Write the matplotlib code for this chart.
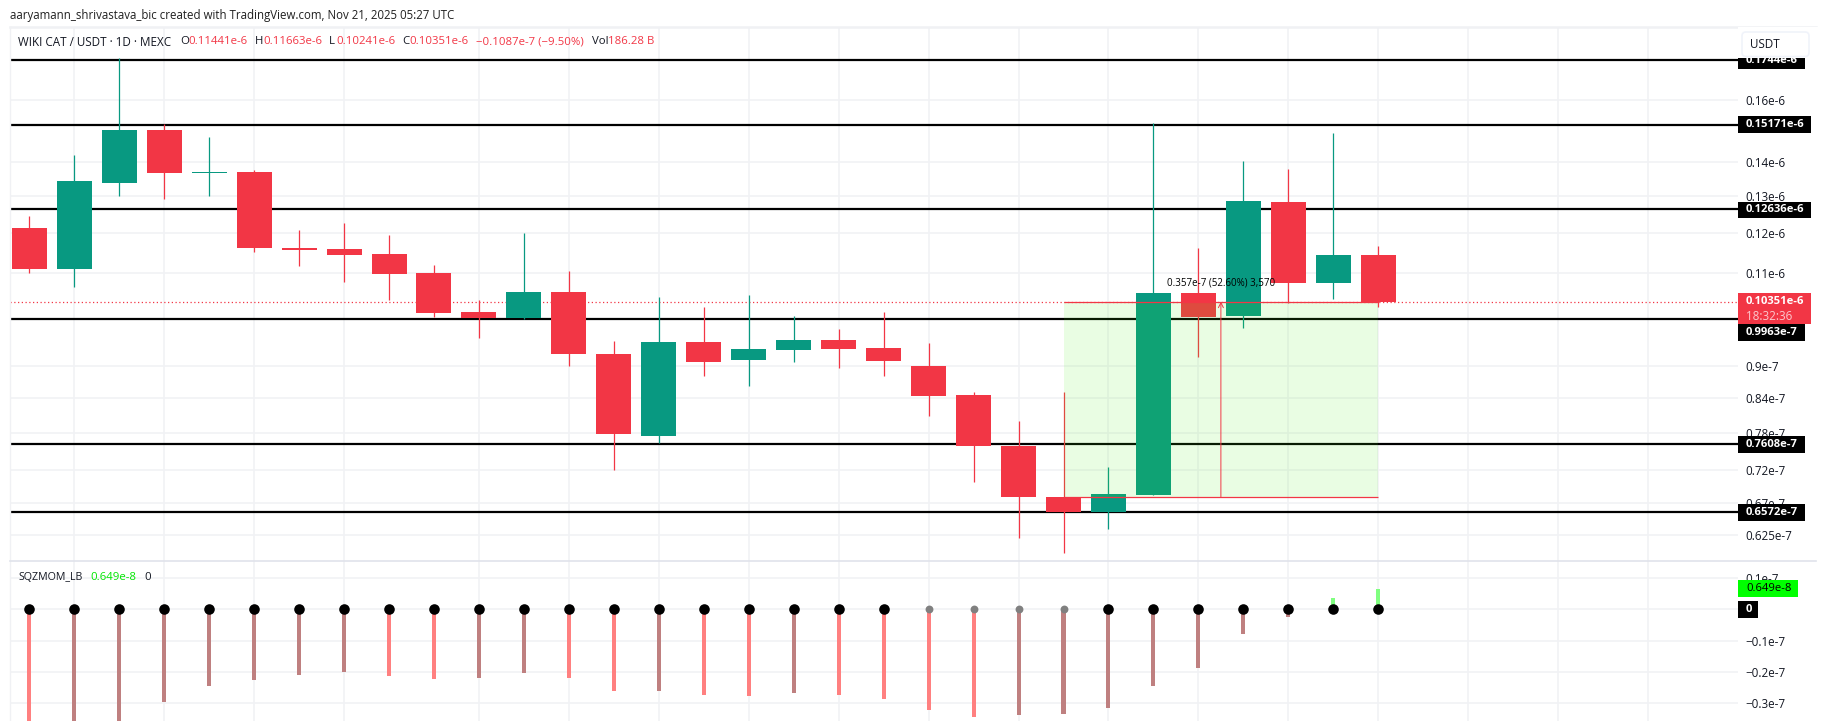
#!/usr/bin/env python3
"""WIKI CAT / USDT daily chart with support lines and squeeze momentum pane."""

import matplotlib
matplotlib.use('Agg')
import matplotlib.pyplot as plt
from matplotlib.patches import Rectangle, FancyBboxPatch
from matplotlib.ticker import NullLocator

plt.rcParams['font.family'] = ['Open Sans', 'DejaVu Sans']

# prices in units of 1e-6
opens = [.12133, .11113, .13382, .14993, .13664, .13694, .11621, .11596, .11472, .11012,
         .10122, .09991, .10568, .09243, .07744, .09487, .09125, .09323, .09527, .09365,
         .09008, .08461, .07578, .06790, .06572, .06817, .10546, .10035, .12834, .10775,
         .11441]
highs = [.12452, .14207, .17504, .15189, .14768, .13753, .12081, .12265, .11951, .11202,
         .10387, .12004, .11059, .09507, .10455, .10232, .10499, .10035, .09756, .10122,
         .09466, .08516, .07997, .08516, .07243, .15211, .11621, .14022, .13783, .14897,
         .11663]
lows = [.11012, .10689, .13011, .12926, .13011, .11530, .11185, .10806, .10387, .10019,
        .09569, .09980, .09008, .07196, .07623, .08816, .08626, .09086, .08969, .08816,
        .08085, .07013, .06214, .06015, .06334, .06817, .09191, .09777, .10326, .10410,
        .10241]
closes = [.11113, .13431, .14993, .13673, .13694, .11629, .11571, .11447, .10987, .10106,
          .09991, .10568, .09243, .07778, .09487, .09086, .09344, .09527, .09344, .09105,
          .08443, .07578, .06790, .06572, .06833, .10546, .10019, .12862, .10775, .11447,
          .10351]

# horizontal levels and axis ticks, same units
levels = [.1744, .15171, .12636, .09963, .07608, .06572]
price_ticks = [.16, .14, .13, .12, .11, .09, .084, .078, .072, .067, .0625]
price_tick_labels = ['0.16e-6', '0.14e-6', '0.13e-6', '0.12e-6', '0.11e-6', '0.9e-7',
                     '0.84e-7', '0.78e-7', '0.72e-7', '0.67e-7', '0.625e-7']
grid_bars = [1, 3, 5, 7, 10, 12, 14, 16, 18, 20, 22, 24, 26, 28, 30, 32, 34, 36]

# squeeze momentum in units of 1e-7, M = maroon, L = light red, G = lime
momentum = [-.37, -.39, -.37, -.297, -.245, -.227, -.211, -.201, -.214, -.223,
            -.220, -.204, -.220, -.262, -.262, -.275, -.278, -.268, -.275, -.287,
            -.323, -.345, -.339, -.336, -.316, -.246, -.188, -.079, -.025, .036,
            .0649]
momentum_kind = list('LMMMMMMMLLMMLLMLLMLLLLMMMMMMMGG')
squeeze_gray = [20, 21, 22, 23]
mom_ticks = [.1, 0, -.1, -.2, -.3]
mom_tick_labels = ['0.1e-7', '0', '\u22120.1e-7', '\u22120.2e-7', '\u22120.3e-7']

# the long position drawing
zone_start, zone_end, zone_top, zone_bottom = 23, 30, .10351, .0679
zone_arrow_x = 26.5

RED = '#f23645'
TEAL = '#089981'
INK = '#131722'
GRID = '#f1f2f5'
BORDER = '#e0e3eb'
BAR_COLORS = {'L': '#ff8080', 'M': '#bf8080', 'G': '#80ff80'}
TICK_SIZE = 8.4
TAG_SIZE = 8.1

W, H = 1825, 721
PANE_L, PANE_R, PANE_T, PANE_M = 10, 1738, 27, 561
fig = plt.figure(figsize=(W / 100, H / 100), dpi=100, facecolor='white')
ax = fig.add_axes([PANE_L / W, 1 - PANE_M / H, (PANE_R - PANE_L) / W, (PANE_M - PANE_T) / H])
ax2 = fig.add_axes([PANE_L / W, 0, (PANE_R - PANE_L) / W, 1 - PANE_M / H])

xlim = (-0.429, 38.0)

# ---- price pane ----
ax.set_yscale('log')
ax.set_xlim(*xlim)
ax.set_ylim(.05912, .18728)
ax.set_yticks(price_ticks)
ax.set_yticklabels(price_tick_labels)
ax.yaxis.set_minor_locator(NullLocator())
ax.yaxis.tick_right()
ax.tick_params(axis='y', length=0, pad=5.5, labelsize=TICK_SIZE, labelcolor=INK)
ax.set_xticks(grid_bars)
ax.tick_params(axis='x', length=0, labelbottom=False)
ax.grid(True, color=GRID, lw=1.2, zorder=0)
ax.set_axisbelow(True)

for lev in levels:
    ax.axhline(lev, color='black', lw=1.6, zorder=1)
ax.axhline(closes[-1], color=RED, lw=0.9, ls=(0, (1, 2)), zorder=1.5)

for i in range(len(opens)):
    col = TEAL if closes[i] >= opens[i] else RED
    top = max(opens[i], closes[i])
    bot = min(opens[i], closes[i])
    ax.vlines(i, lows[i], highs[i], color=col, lw=0.9, zorder=2)
    ax.bar(i, top - bot, bottom=bot, width=0.778, color=col, lw=0, zorder=3)

# long position overlay sits above the candles
ax.fill_between([zone_start, zone_end], zone_bottom, zone_top,
                color=(75 / 255, 238 / 255, 25 / 255), alpha=0.117, lw=0, zorder=4)
ax.hlines([zone_top, zone_bottom], zone_start, zone_end, color=RED, lw=0.9, zorder=5)
ax.annotate('', xy=(zone_arrow_x, zone_top), xytext=(zone_arrow_x, zone_bottom),
            arrowprops=dict(arrowstyle='->', color=RED, lw=0.7, shrinkA=0, shrinkB=0,
                            mutation_scale=9), zorder=5)
ax.text(zone_arrow_x, .1078, '0.357e-7 (52.60%) 3,570', fontsize=7, color='black',
        ha='center', va='center', zorder=6)

# ---- momentum pane ----
ax2.set_xlim(*xlim)
ax2.set_ylim(-.358, .1548)
ax2.set_yticks(mom_ticks)
ax2.set_yticklabels(mom_tick_labels)
ax2.yaxis.tick_right()
ax2.tick_params(axis='y', length=0, pad=5.5, labelsize=TICK_SIZE, labelcolor=INK)
ax2.set_xticks(grid_bars)
ax2.tick_params(axis='x', length=0, labelbottom=False)
ax2.grid(True, color=GRID, lw=1.2, zorder=0)
ax2.set_axisbelow(True)

xs = list(range(len(momentum)))
ax2.bar(xs, momentum, width=0.09, color=[BAR_COLORS[k] for k in momentum_kind], lw=0, zorder=2)
black_x = [x for x in xs if x not in squeeze_gray]
ax2.scatter(black_x, [0] * len(black_x), s=58, color='black', lw=0, zorder=3)
ax2.scatter(squeeze_gray, [0] * len(squeeze_gray), s=32, color='#808080', lw=0, zorder=3)

for a in (ax, ax2):
    for s in a.spines.values():
        s.set_visible(False)

# ---- overlay in pixel coordinates for headers and price tags ----
ov = fig.add_axes([0, 0, 1, 1], facecolor='none')
ov.set_xlim(0, W)
ov.set_ylim(H, 0)
ov.axis('off')


def label(x, y, s, color=INK, size=8.2, weight='normal', **kw):
    ov.text(x, y, s, color=color, fontsize=size, fontweight=weight, va='center', ha='left', **kw)


def price_tag(y0, y1, x1, bg, fg, s, weight='bold'):
    ov.add_patch(Rectangle((PANE_R, y0), x1 - PANE_R, y1 - y0, fc=bg, ec='none', zorder=3))
    ov.text(1746, (y0 + y1) / 2, s, color=fg, fontsize=TAG_SIZE, fontweight=weight,
            va='center', ha='left', zorder=4)


ov.plot([PANE_L, 1816], [27, 27], color='#f0f1f4', lw=1.8)
ov.plot([PANE_L, PANE_L], [27, H], color='#f0f1f4', lw=1.0)
ov.plot([PANE_L, 1816], [PANE_M, PANE_M], color=BORDER, lw=1.2)

label(10, 15, 'aaryamann_shrivastava_bic created with TradingView.com, Nov 21, 2025 05:27 UTC',
      color='#202020', size=8.3)

label(18, 42, 'WIKI CAT / USDT \u00b7 1D \u00b7 MEXC', size=8.4)
label(180, 42, 'O')
label(188, 42, '0.11441e-6', color=RED)
label(255, 42, 'H')
label(263, 42, '0.11663e-6', color=RED)
label(329, 42, 'L')
label(336, 42, '0.10241e-6', color=RED)
label(402, 42, 'C')
label(409, 42, '0.10351e-6', color=RED)
label(476, 42, '\u22120.1087e-7 (\u22129.50%)', color=RED)
label(592, 42, 'Vol')
label(608, 42, '186.28 B', color=RED)

label(18, 577, 'SQZMOM_LB', size=7.7)
label(90, 577, '0.649e-8', color='#00e600')
label(144, 577, '0')

price_tag(52, 69, 1805, 'black', 'white', '0.1744e-6')
ov.add_patch(FancyBboxPatch((1742, 32), 67, 24.5, boxstyle='round,pad=0,rounding_size=4',
                            fc='white', ec='#f0f3fa', lw=1.2, zorder=5))
ov.add_patch(Rectangle((1738, 27), 80, 5, fc='white', ec='none', zorder=4.5))
ov.add_patch(Rectangle((1738, 50), 80, 8, fc='white', ec='none', zorder=4.5))
ov.text(1750, 44.5, 'USDT', color=INK, fontsize=TICK_SIZE, va='center', ha='left', zorder=6)

price_tag(116, 133, 1811, 'black', 'white', '0.15171e-6')
price_tag(201.5, 218, 1811, 'black', 'white', '0.12636e-6')
price_tag(324, 341, 1805, 'black', 'white', '0.9963e-7')
price_tag(436, 453, 1805, 'black', 'white', '0.7608e-7')
price_tag(504, 521, 1805, 'black', 'white', '0.6572e-7')

ov.add_patch(Rectangle((PANE_R, 293), 73, 31, fc=RED, ec='none', zorder=3))
ov.text(1746, 302, '0.10351e-6', color='white', fontsize=TAG_SIZE, fontweight='bold',
        va='center', ha='left', zorder=4)
ov.text(1746, 316, '18:32:36', color='#fcc8cd', fontsize=TICK_SIZE, va='center', ha='left', zorder=4)

price_tag(580, 597, 1798, '#00ff00', 'black', '0.649e-8', weight='normal')
price_tag(601, 618, 1758, 'black', 'white', '0')

fig.savefig('out.png', dpi=100, facecolor='white')
